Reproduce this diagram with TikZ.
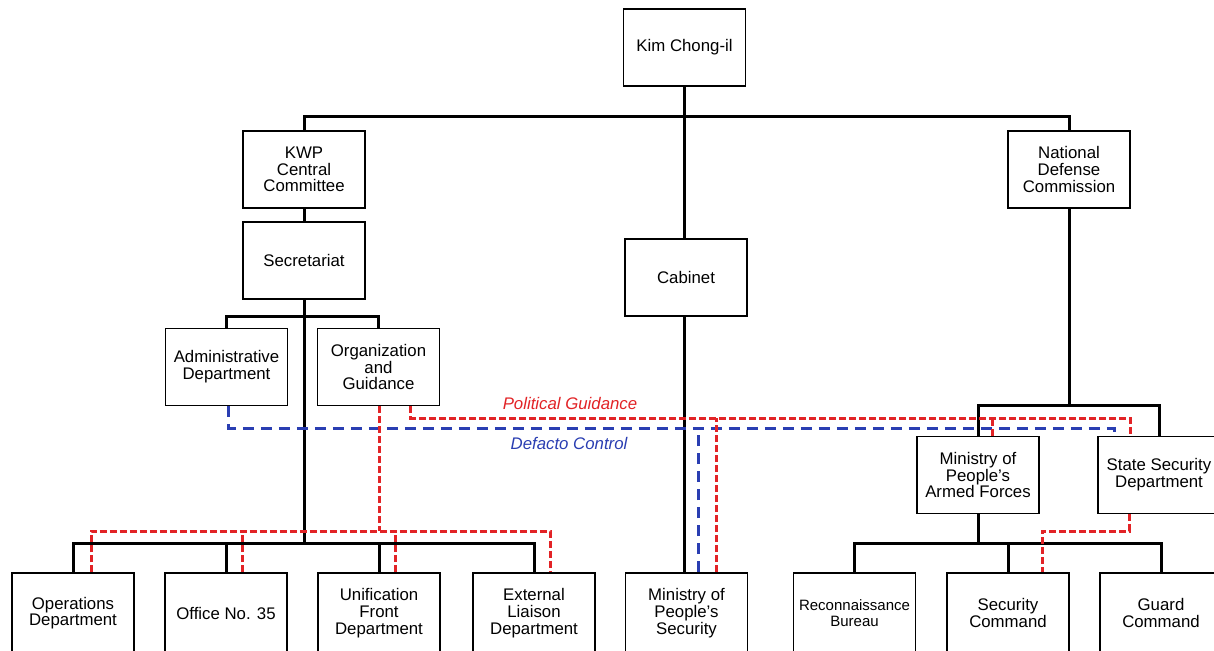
\documentclass[tikz,border=0pt]{standalone}
\usepackage{fontspec}
\setmainfont{Liberation Sans}
\usetikzlibrary{positioning,calc}
\definecolor{pgred}{RGB}{226,35,38}
\definecolor{dcblue}{RGB}{42,62,178}
\begin{document}
\begin{tikzpicture}[x=1pt, y=-1pt,
    unit/.style = {draw, line width=1.6pt, minimum width=122pt, minimum height=77pt,
                   inner sep=1pt, align=center, font=\fontsize{16.8}{16.7}\selectfont},
    leaf/.style = {unit, minimum height=80pt},
    tree/.style = {line width=3pt},
    pg/.style = {pgred, line width=3pt, dash pattern=on 7pt off 3pt},
    dc/.style = {dcblue, line width=3pt, dash pattern=on 11pt off 7pt},
    lbl/.style = {font=\fontsize{16.8}{16.7}\selectfont\itshape}]
    \fill[white] (0,0) rectangle (1214,650);
    \useasboundingbox (0,0) rectangle (1214,650);

    \node[unit] (kim) at (684.5,47.5) {Kim Chong-il};
    \node[unit] (kwp) at (304,169.5) {KWP\\Central\\Committee};
    \node[unit] (secr) at (304,260.5) {Secretariat};
    \node[unit] (cabinet) at (686,277.5) {Cabinet};
    \node[unit] (ndc) at (1069,169.5) {National\\Defense\\Commission};
    \node[unit] (admin) at (226.5,367) {Administrative\\Department};
    \node[unit] (orgd) at (378.5,367) {Organization\\and\\Guidance};
    \node[unit] (mpaf) at (978,475) {Ministry of\\People's\\Armed Forces};
    \node[unit] (ssd) at (1159,475) {State Security\\Department};

    \node[leaf] (ops) at (73,613) {Operations\\Department};
    \node[leaf] (office) at (226,613) {Office No. 35};
    \node[leaf] (unif) at (379,613) {Unification\\Front\\Department};
    \node[leaf] (extl) at (534,613) {External\\Liaison\\Department};
    \node[leaf] (mps) at (686.5,613) {Ministry of\\People's\\Security};
    \node[leaf, font=\fontsize{15}{16.7}\selectfont] (recon) at (854.5,613) {Reconnaissance\\Bureau};
    \node[leaf] (seccom) at (1008,613) {Security\\Command};
    \node[leaf] (guard) at (1161,613) {Guard\\Command};

    \coordinate (topbar) at (684.5,117);
    \coordinate (midbar) at (304,316);
    \coordinate (lowbar) at (304,543);
    \coordinate (ndcbar) at (1069,405.5);
    \coordinate (rbar) at (978,543);
    \coordinate (pgline) at (0,418);
    \coordinate (dcline) at (0,428);
    \coordinate (pgbar) at (0,531);

    \draw[tree] (kim) -- (kim |- cabinet.north);
    \draw[tree] (kim |- cabinet.south) -- (kim |- mps.north);
    \draw[tree] (kwp.north) |- (topbar) -| (ndc.north);
    \draw[tree] (kwp) -- (secr);
    \draw[tree] (secr) -- (lowbar);
    \draw[tree] (admin.north) |- (midbar) -| (orgd.north);
    \draw[tree] (ops.north) |- (lowbar) -| (extl.north);
    \foreach \n in {office,unif}
        \draw[tree] (\n) -- (\n |- lowbar);
    \draw[tree] (ndc) -- (ndcbar);
    \draw[tree] (mpaf.north) |- (ndcbar) -| (ssd.north);
    \draw[tree] (mpaf) -- (rbar);
    \draw[tree] (recon.north) |- (rbar) -| (guard.north);
    \draw[tree] (seccom) -- (seccom |- rbar);

    \draw[dc] ([xshift=2pt]admin.south) |- ([xshift=-45pt]ssd.north |- dcline) -- ([xshift=-45pt]ssd.north);
    \draw[dc] ([xshift=12pt]mps.north) -- ([xshift=12pt]mps.north |- dcline);

    \draw[pg] ([xshift=32pt]orgd.south) |- ([xshift=-29pt]ssd.north |- pgline) -- ([xshift=-29pt]ssd.north);
    \draw[pg] ([xshift=30pt]mps.north) -- ([xshift=30pt]mps.north |- pgline);
    \draw[pg] ([xshift=14pt]mpaf.north) -- ([xshift=14pt]mpaf.north |- pgline);
    \draw[pg] ([xshift=1pt]orgd.south) -- ([xshift=1pt]orgd.south |- pgbar);
    \draw[pg] ([xshift=18pt]ops.north) |- ([xshift=1pt]orgd.south |- pgbar) -| ([xshift=16pt]extl.north);
    \foreach \n in {office,unif}
        \draw[pg] ([xshift=16pt]\n.north) -- ([xshift=16pt]\n.north |- pgbar);
    \draw[pg] ([xshift=-30pt]ssd.south) |- ([xshift=34pt]seccom.north |- pgbar) -- ([xshift=34pt]seccom.north);

    \node[lbl, text=pgred] (pglabel) at (570,403) {Political Guidance};
    \node[lbl, text=dcblue] (dclabel) at (569,443) {Defacto Control};
\end{tikzpicture}
\end{document}
